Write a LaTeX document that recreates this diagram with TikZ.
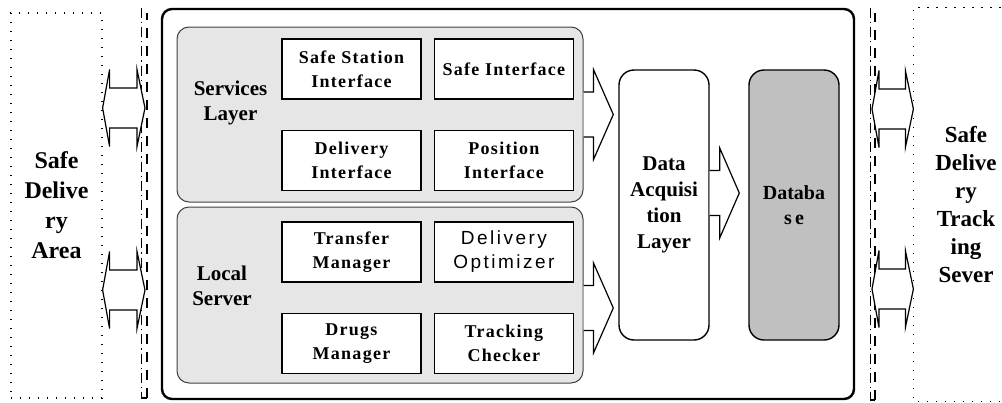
\documentclass[tikz,border=0pt]{standalone}
\usepackage{fontspec}
\setmainfont{Liberation Serif}
\newfontfamily\optfont[LetterSpace=13]{Liberation Sans}
\usetikzlibrary{positioning,calc}
\definecolor{layergray}{RGB}{230,230,230}
\definecolor{dbgray}{RGB}{192,192,192}
\tikzset{
    %Define style for the outside areas
    zone/.style={
           draw=black,
           line width=0.6pt,
           dash pattern=on 0.6pt off 3.9pt,
           align=center,
           font=\fontsize{12}{15}\selectfont\bfseries},
    zoneline/.style={
           line width=0.6pt,
           dash pattern=on 0.6pt off 3.9pt},
    %Define style for the system frame
    frame/.style={
           draw=black,
           line width=1.2pt,
           rounded corners=5pt},
    %Define style for the gray layers
    layer/.style={
           draw=black!75,
           line width=0.5pt,
           fill=layergray,
           rounded corners=6pt,
           minimum width=203pt,
           minimum height=87.5pt},
    layerlabel/.style={
           align=center,
           font=\fontsize{10.5}{12.5}\selectfont\bfseries},
    %Define style for boxes
    ifbox/.style={
           draw=black,
           line width=0.7pt,
           fill=white,
           inner sep=0pt,
           minimum width=69.5pt,
           minimum height=30pt,
           align=center,
           font=\fontsize{9}{12}\selectfont\bfseries\addfontfeatures{LetterSpace=7}},
    tall/.style={
           draw=black,
           line width=0.7pt,
           rounded corners=7.5pt,
           minimum width=45pt,
           minimum height=135pt,
           align=center},
    % Define block arrow styles
    blockarr/.style={
           draw=black, fill=white, line width=0.6pt,
           to path={let \p1=(\tikztostart), \p2=(\tikztotarget) in
             (\x1,\y1+11.25pt) -- (\x1+5pt,\y1+11.25pt) -- (\x1+5pt,\y1+22.5pt)
             -- (\x2,\y1) -- (\x1+5pt,\y1-22.5pt) -- (\x1+5pt,\y1-11.25pt)
             -- (\x1,\y1-11.25pt)}},
    dblarr/.style={
           draw=black, fill=white, line width=0.6pt,
           to path={let \p1=(\tikztostart), \p2=(\tikztotarget) in
             (\x1,\y1) -- (\x1+3.5pt,\y1+19.25pt) -- (\x1+3.5pt,\y1+10pt)
             -- (\x2-4pt,\y1+10pt) -- (\x2-4pt,\y1+19.25pt) -- (\x2,\y1)
             -- (\x2-4pt,\y1-19.25pt) -- (\x2-4pt,\y1-10pt)
             -- (\x1+3.5pt,\y1-10pt) -- (\x1+3.5pt,\y1-19.25pt) -- cycle}}
}

\begin{document}
\begin{tikzpicture}[x=0.5pt,y=-0.5pt,node distance=15pt]
\useasboundingbox (0,0) rectangle (1002,402);
% outside areas
\node[zone, minimum width=45.5pt, minimum height=192.5pt](area) at (56.5,205.5){Safe\\Delive\\ry\\Area};
\node[zone, draw=none, minimum width=52pt, minimum height=196.5pt, font=\fontsize{11.5}{14}\selectfont\bfseries](track) at (966,204.5){Safe\\Delive\\ry\\Track\\ing\\Sever};
\draw[zoneline] (track.north east) -- (track.north west) -- (track.south west) -- (track.south east);
% walls
\draw[line width=0.5pt, dash pattern=on 5pt off 2pt on 0.6pt off 2pt] (141,8) -- (141,398);
\draw[line width=0.6pt] (141,398) -- (147,398);
\draw[line width=0.6pt, dash pattern=on 5pt off 4pt] (147,398) -- (147,13);
\draw[line width=0.5pt, dash pattern=on 5pt off 2pt on 0.6pt off 2pt] (870,8) -- (870,400);
\draw[line width=0.6pt] (870,400) -- (875,400);
\draw[line width=0.6pt, dash pattern=on 5pt off 4pt] (875,400) -- (875,13);
\coordinate (lwall) at (145,205);
\coordinate (rwall) at (872,205);
% system
\node[frame, minimum width=346pt, minimum height=195pt](main) at (508,204){};
\node[layer](svc) at (380,114.5){};
\node[layer, minimum height=88pt](loc) at (380,295){};
\node[layerlabel] at (230.5,103){Services\\Layer};
\node[layerlabel] at (222,286){Local\\Server};
\node[ifbox](ssi) at (351.5,69){Safe Station\\Interface};
\node[ifbox, right=6pt of ssi](sin){Safe Interface};
\node[ifbox, below=of ssi](dlv){Delivery\\Interface};
\node[ifbox, below=of sin](pos){Position\\Interface};
\node[ifbox, below=of dlv](trm){Transfer\\Manager};
\node[ifbox, below=of pos, font=\fontsize{9.5}{12}\optfont](opt){Delivery\\Optimizer};
\node[ifbox, below=of trm](drg){Drugs\\Manager};
\node[ifbox, below=of opt](chk){Tracking\\Checker};
\node[tall, fill=white, font=\fontsize{10.5}{13}\selectfont\bfseries](daq) at (664,205){Data\\Acquisi\\tion\\Layer};
\node[tall, fill=dbgray, font=\fontsize{10}{12.5}\selectfont\bfseries](db) at (794,205){Databa\\s\,e};
\path
	(svc.east) edge[blockarr] ($(svc.east -| daq.west)+(-5,0)$)
	($(loc.east)+(0,13)$) edge[blockarr] ($(loc.east -| daq.west)+(-5,13)$)
	($(daq.east)+(0,-12)$) edge[blockarr] ($(daq.east -| db.west)+(-9,-12)$)
	($(area.east |- lwall)+(0,-97)$) edge[dblarr] ($(lwall)+(0,-97)$)
	($(area.east |- lwall)+(0,85)$) edge[dblarr] ($(lwall)+(0,85)$)
	($(rwall)+(0,-96)$) edge[dblarr] ($(track.west |- rwall)+(0,-96)$)
	($(rwall)+(0,84)$) edge[dblarr] ($(track.west |- rwall)+(0,84)$);
\end{tikzpicture}
\end{document}
